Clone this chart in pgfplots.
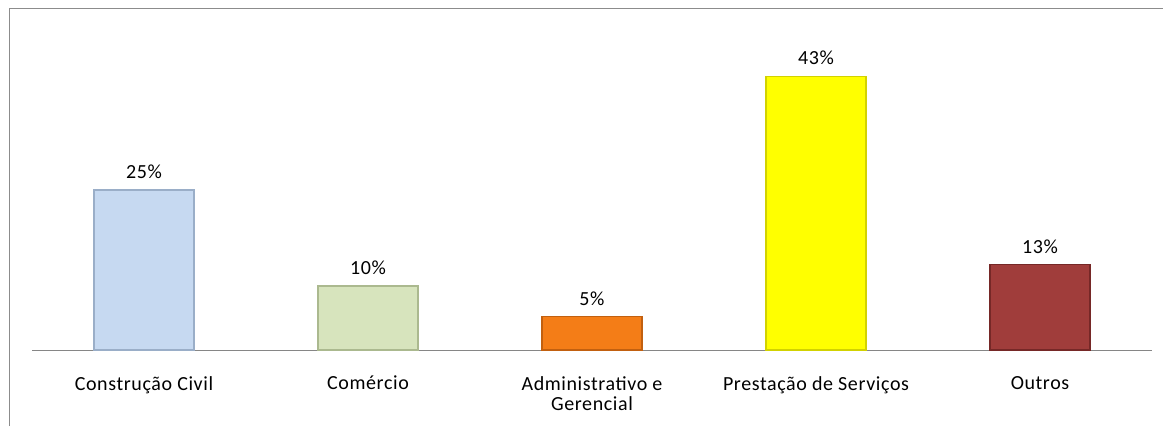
\documentclass[border=0pt]{standalone}
\usepackage{pgfplots}
\pgfplotsset{compat=1.18}
\usepackage{fontspec}
\setmainfont{Carlito}
\newfontfamily\lbl[LetterSpace=3]{Carlito}
\definecolor{framegray}{HTML}{8C8C8C}
\definecolor{axisgray}{HTML}{868686}
\definecolor{cblue}{HTML}{C6D9F1}
\definecolor{cblueD}{HTML}{9AAEC8}
\definecolor{cgreen}{HTML}{D7E4BD}
\definecolor{cgreenD}{HTML}{ABB98F}
\definecolor{corange}{HTML}{F47D17}
\definecolor{corangeD}{HTML}{C2600F}
\definecolor{cyellow}{HTML}{FFFF00}
\definecolor{cyellowD}{HTML}{D2D200}
\definecolor{cred}{HTML}{A03D3B}
\definecolor{credD}{HTML}{762827}
\begin{document}
\begin{tikzpicture}
\path[use as bounding box] (0,0) rectangle (872.25pt,319.5pt);
\draw[color=framegray, line width=0.75pt] (6.75pt,0) -- (6.75pt,312.75pt) -- (872.25pt,312.75pt);
\begin{axis}[
  at={(24pt,57pt)}, anchor=south west,
  scale only axis, width=840pt, height=240pt,
  xmin=-0.5, xmax=4.5, ymin=0, ymax=50,
  axis x line=bottom, axis y line=none,
  x axis line style={-, draw=axisgray, line width=0.75pt},
  ytick=\empty,
  xtick={0,1,2,3,4},
  xticklabels={Construção Civil, Comércio, {Administrativo e\\Gerencial}, Prestação de Serviços, Outros},
  xtick style={draw=none},
  xticklabel style={align=center, font=\lbl\fontsize{15pt}{15.5pt}\selectfont, yshift=-14pt},
  clip=false,
  nodes near coords,
  point meta=explicit symbolic,
  every node near coord/.append style={font=\lbl\fontsize{15pt}{15.5pt}\selectfont, text=black, yshift=4.5pt},
]
\addplot[ybar, bar width=75pt, bar shift=0pt, fill=cblue, draw=cblueD, line width=0.8pt] coordinates {(0,25) [25\%]};
\addplot[ybar, bar width=75pt, bar shift=0pt, fill=cgreen, draw=cgreenD, line width=0.8pt] coordinates {(1,10) [10\%]};
\addplot[ybar, bar width=75pt, bar shift=0pt, fill=corange, draw=corangeD, line width=0.8pt] coordinates {(2,5.2) [5\%]};
\addplot[ybar, bar width=75pt, bar shift=0pt, fill=cyellow, draw=cyellowD, line width=0.8pt] coordinates {(3,42.8) [43\%]};
\addplot[ybar, bar width=75pt, bar shift=0pt, fill=cred, draw=credD, line width=0.8pt] coordinates {(4,13.3) [13\%]};
\end{axis}
\end{tikzpicture}
\end{document}
